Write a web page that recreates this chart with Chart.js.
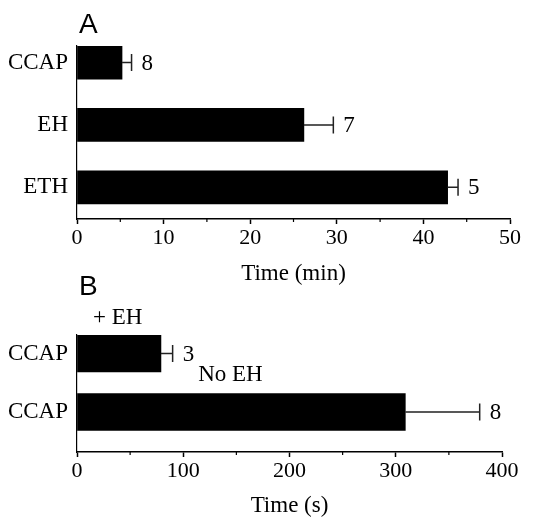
<!DOCTYPE html>
<html>
<head>
<meta charset="utf-8">
<script src="https://cdn.jsdelivr.net/npm/chart.js@4/dist/chart.umd.min.js"></script>
<style>
  html, body { margin: 0; padding: 0; background: #fff; }
  #wrap { position: relative; width: 543px; height: 517px; }
  canvas { position: absolute; left: 0; }
</style>
</head>
<body>
<div id="wrap">
  <canvas id="chartA" width="543" height="285" style="top:0"></canvas>
  <canvas id="chartB" width="543" height="255" style="top:262px"></canvas>
</div>
<script>
// panel A: time in minutes
const labelsA = ['CCAP', 'EH', 'ETH'];
const meansA = [5.2, 26.2, 42.8];
const errorsA = [1.1, 3.4, 1.2];
const countsA = ['8', '7', '5'];

// panel B: CCAP with / without EH, time in seconds
const labelsB = ['CCAP', 'CCAP'];
const meansB = [79, 309];
const errorsB = [11, 70];
const countsB = ['3', '8'];
const notesB = [
    { text: '+ EH', x: 15, y: -0.6 },
    { text: 'No EH', x: 114, y: 0.37 }
];

const serif = '"Liberation Serif", "Times New Roman", serif';

const errorBars = {
    id: 'errorBars',
    afterDatasetsDraw(chart, args, opts) {
        const ctx = chart.ctx;
        const xs = chart.scales.x;
        const ys = chart.scales.y;
        const meta = chart.getDatasetMeta(0);
        ctx.save();
        ctx.strokeStyle = '#222';
        ctx.lineWidth = 1.5;
        meta.data.forEach((bar, i) => {
            const end = xs.getPixelForValue(opts.means[i] + opts.errors[i]);
            ctx.beginPath();
            ctx.moveTo(bar.x, bar.y);
            ctx.lineTo(end, bar.y);
            ctx.moveTo(end, bar.y - 8.5);
            ctx.lineTo(end, bar.y + 8.5);
            ctx.stroke();
            ctx.fillStyle = '#000';
            ctx.font = '23px ' + serif;
            ctx.textAlign = 'left';
            ctx.textBaseline = 'middle';
            ctx.fillText(opts.counts[i], end + 10, bar.y + 1);
        });
        // minor ticks
        ctx.strokeStyle = '#000';
        ctx.lineWidth = 1.2;
        xs.ticks.forEach(t => {
            if (t.value % opts.major !== 0) {
                const px = xs.getPixelForValue(t.value);
                ctx.beginPath();
                ctx.moveTo(px, xs.top);
                ctx.lineTo(px, xs.top + 3);
                ctx.stroke();
            }
        });
        // notes
        (opts.notes || []).forEach(n => {
            ctx.fillStyle = '#000';
            ctx.font = '23px ' + serif;
            ctx.textAlign = 'left';
            ctx.textBaseline = 'middle';
            ctx.fillText(n.text, xs.getPixelForValue(n.x), ys.getPixelForValue(n.y));
        });
        // panel letter
        ctx.fillStyle = '#000';
        ctx.font = '28px "Liberation Sans", Arial, sans-serif';
        ctx.textAlign = 'left';
        ctx.textBaseline = 'alphabetic';
        ctx.fillText(opts.letter, 79, 33);
        ctx.restore();
    }
};

function makeChart(id, labels, means, errors, counts, cfg) {
    return new Chart(document.getElementById(id), {
        type: 'bar',
        data: {
            datasets: [{
                data: means.map((v, i) => ({ x: v, y: i })),
                backgroundColor: '#000',
                borderWidth: 0,
                barThickness: cfg.barThickness
            }]
        },
        options: {
            indexAxis: 'y',
            responsive: false,
            animation: false,
            layout: { padding: { top: cfg.top, right: cfg.right, left: 0, bottom: 0 } },
            plugins: {
                legend: { display: false },
                tooltip: { enabled: false },
                errorBars: {
                    means: means, errors: errors, counts: counts,
                    major: cfg.major, letter: cfg.letter, notes: cfg.notes
                }
            },
            scales: {
                x: {
                    type: 'linear',
                    min: 0,
                    max: cfg.xMax,
                    afterFit: s => { s.height = cfg.xHeight; },
                    ticks: {
                        stepSize: cfg.major / 2,
                        color: '#000',
                        padding: 1,
                        font: { family: serif, size: 22 },
                        callback: v => (v % cfg.major === 0 ? v : '')
                    },
                    grid: {
                        display: true,
                        drawOnChartArea: false,
                        tickLength: 5,
                        tickWidth: 1.5,
                        tickColor: c => (c.tick && c.tick.value % cfg.major === 0 ? '#000' : 'rgba(0,0,0,0)')
                    },
                    border: { display: true, color: '#000', width: 1.5 },
                    title: {
                        display: true,
                        text: cfg.xTitle,
                        color: '#000',
                        padding: 0,
                        font: { family: serif, size: 23, lineHeight: 1 }
                    }
                },
                y: {
                    type: 'linear',
                    reverse: true,
                    offset: false,
                    min: cfg.yMin,
                    max: cfg.yMax,
                    afterFit: s => { s.width = 77; },
                    afterBuildTicks: s => { s.ticks = labels.map((l, i) => ({ value: i })); },
                    ticks: {
                        color: '#000',
                        padding: 9,
                        font: { family: serif, size: 23 },
                        callback: v => labels[v]
                    },
                    grid: { display: false, drawTicks: false },
                    border: { display: true, color: '#000', width: 1.2 }
                }
            }
        },
        plugins: [errorBars]
    });
}

makeChart('chartA', labelsA, meansA, errorsA, countsA, {
    barThickness: 33, top: 46, right: 33, xHeight: 66, xMax: 50, major: 10,
    yMin: -0.266, yMax: 2.508, xTitle: 'Time (min)', letter: 'A', notes: []
});

makeChart('chartB', labelsB, meansB, errorsB, countsB, {
    barThickness: 37, top: 73, right: 41, xHeight: 65, xMax: 400, major: 100,
    yMin: -0.316, yMax: 1.684, xTitle: 'Time (s)', letter: 'B', notes: notesB
});
</script>
</body>
</html>
